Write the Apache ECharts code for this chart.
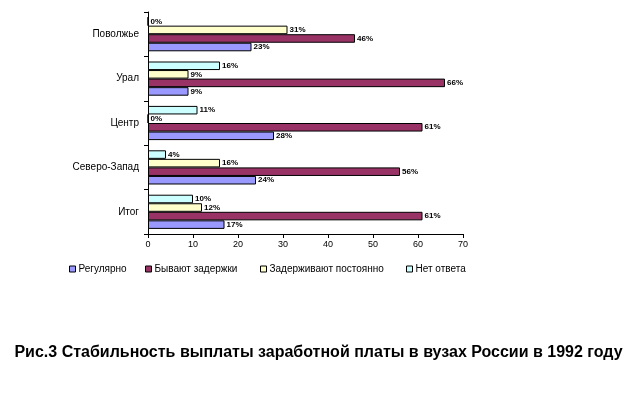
<!DOCTYPE html>
<html><head><meta charset="utf-8">
<script src="https://cdn.jsdelivr.net/npm/echarts@6/dist/echarts.min.js"></script>
<style>html,body{margin:0;padding:0;background:#fff;}#c{width:637px;height:397px;}</style>
</head><body><div id="c"></div>
<script>
const categories = ['Итог', 'Северо-Запад', 'Центр', 'Урал', 'Поволжье'];
const regular = [17, 24, 28, 9, 23];
const delays = [61, 56, 61, 66, 46];
const constDelay = [12, 16, 0, 9, 31];
const noAnswer = [10, 4, 11, 16, 0];
const seriesNames = ['Регулярно', 'Бывают задержки', 'Задерживают постоянно', 'Нет ответа'];
const xTicks = [0, 10, 20, 30, 40, 50, 60, 70];
const colors = ['#9999FF', '#993366', '#FFFFCC', '#CCFFFF'];
const title = 'Рис.3 Стабильность выплаты заработной платы в вузах России в 1992 году';

const font = 'Liberation Sans, Arial, sans-serif';
const chart = echarts.init(document.getElementById('c'), null, {renderer: 'canvas'});
const mk = (name, data, i) => ({
  name, type: 'bar', data,
  barGap: '0%', barCategoryGap: '23%',
  itemStyle: {color: colors[i], borderColor: '#000', borderWidth: 1},
  label: {show: true, position: 'right', distance: 2, formatter: p => p.value + '%',
    fontFamily: font, fontSize: 8, fontWeight: 'bold', color: '#000'}
});
const legendLefts = [69, 145, 260, 406];
const legends = seriesNames.map((n, i) => ({
  left: legendLefts[i], top: 264, itemWidth: 6, itemHeight: 6, itemGap: 0,
  icon: 'rect', data: [n], padding: 0,
  textStyle: {fontFamily: font, fontSize: 10, color: '#000', padding: [0, 0, 0, -2]},
  itemStyle: {borderColor: '#000', borderWidth: 1}
}));
chart.setOption({
  animation: false,
  backgroundColor: '#fff',
  title: {text: title, left: 'center', top: 340,
    textStyle: {fontFamily: font, fontSize: 16, fontWeight: 'bold', color: '#000'}},
  legend: legends,
  grid: {left: 148, right: 174, top: 12, bottom: 163, containLabel: false},
  xAxis: {type: 'value', min: xTicks[0], max: xTicks[xTicks.length - 1], interval: 10,
    splitLine: {show: false},
    axisLine: {show: true, lineStyle: {color: '#000'}},
    axisTick: {show: true, length: 4, lineStyle: {color: '#000'}},
    axisLabel: {fontFamily: font, fontSize: 9, color: '#000', margin: 6}},
  yAxis: {type: 'category', data: categories,
    axisLine: {lineStyle: {color: '#000'}},
    axisTick: {show: true, length: 4, lineStyle: {color: '#000'}},
    axisLabel: {fontFamily: font, fontSize: 10, color: '#000', margin: 9}},
  series: [mk(seriesNames[3], noAnswer, 3), mk(seriesNames[2], constDelay, 2),
           mk(seriesNames[1], delays, 1), mk(seriesNames[0], regular, 0)]
});
</script></body></html>
